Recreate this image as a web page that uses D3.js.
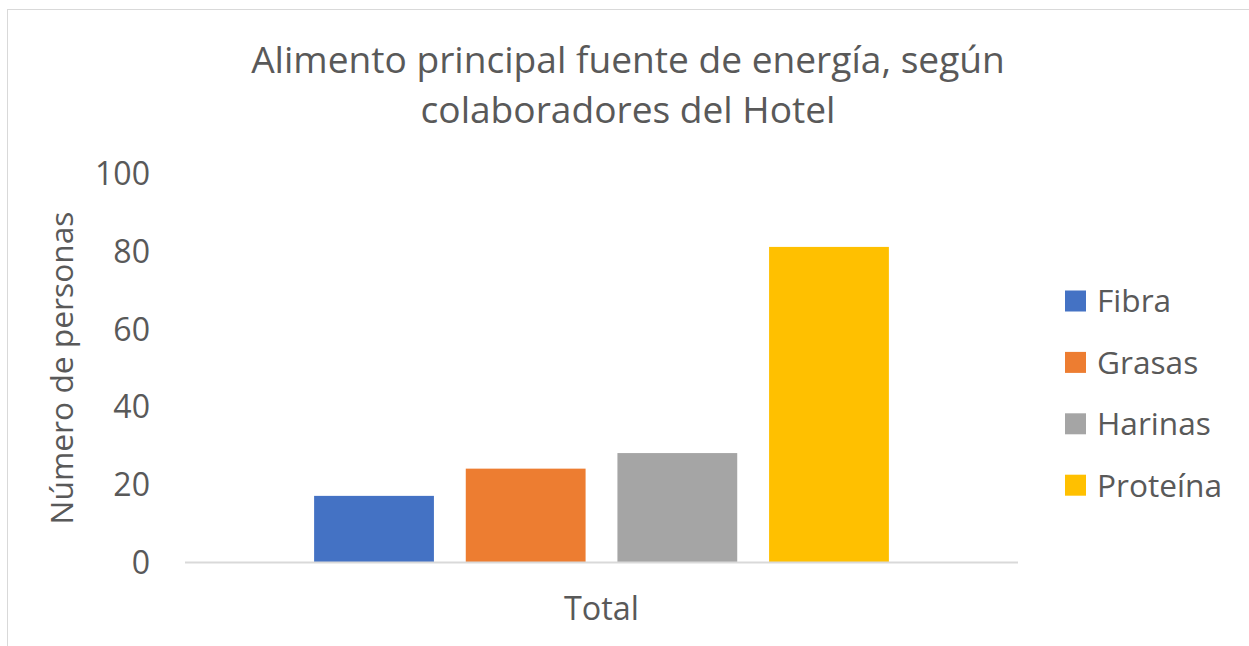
<html lang="es">
<head>
<meta charset="UTF-8" />
<title>Alimento principal</title>
<script src="https://cdn.jsdelivr.net/npm/d3@7"></script>
<style>
  body { margin: 0; background: #fff; }
  text { font-family: "Open Sans", "Noto Sans", sans-serif; fill: #595959; }
</style>
</head>
<body>
<script>
// datos
const categories = ["Total"];
const series = ["Fibra", "Grasas", "Harinas", "Proteína"];
const values = [17, 24, 28, 81];
const colors = ["#4472C4", "#ED7D31", "#A5A5A5", "#FFC000"];
const yTicks = [0, 20, 40, 60, 80, 100];
const titleLines = ["Alimento principal fuente de energía, según", "colaboradores del Hotel"];

const width = 1249, height = 646;
const svg = d3.select("body").append("svg")
    .attr("width", width)
    .attr("height", height);

// borde del gráfico
svg.append("rect")
    .attr("x", 7.5).attr("y", 9.5)
    .attr("width", 1300).attr("height", 700)
    .attr("fill", "#fff")
    .attr("stroke", "#d9d9d9")
    .attr("stroke-width", 1);

// ajusta el tamaño de letra para que el texto ocupe el ancho dado
function fit(sel, target) {
  let size = 30;
  sel.style("font-size", size + "px");
  let len = sel.node().getComputedTextLength();
  size = size * target / len;
  sel.style("font-size", size + "px");
  return size;
}

const plot = { left: 185, right: 1018, top: 173, bottom: 562 };

const y = d3.scaleLinear().domain([0, 100]).range([plot.bottom, plot.top]);
const x0 = d3.scaleBand().domain(categories).range([plot.left, plot.right])
    .paddingInner(0.31).paddingOuter(0.155);
const x1 = d3.scaleBand().domain(series).range([0, x0.bandwidth()])
    .paddingInner(0.21);
const color = d3.scaleOrdinal().domain(series).range(colors);

// título
const t1 = svg.append("text").attr("x", 628).attr("y", 73)
    .attr("text-anchor", "middle").text(titleLines[0]);
const titleSize = fit(t1, 754);
svg.append("text").attr("x", 628).attr("y", 123)
    .attr("text-anchor", "middle")
    .style("font-size", titleSize + "px")
    .text(titleLines[1]);

// eje y (solo etiquetas)
const probe = svg.append("text").text("100");
const tickSize = fit(probe, 55);
probe.remove();
const yAxis = svg.append("g")
    .attr("transform", `translate(150,0)`)
    .call(d3.axisLeft(y).tickValues(yTicks).tickSize(0).tickPadding(0));
yAxis.select(".domain").remove();
yAxis.selectAll("text")
    .attr("dy", "0.36em")
    .style("font-size", tickSize + "px")
    .style("font-family", null)
    .attr("fill", null);

// título del eje y
const yt = svg.append("text")
    .attr("transform", `translate(73,368) rotate(-90)`)
    .attr("text-anchor", "middle")
    .text("Número de personas");
fit(yt, 313);

// barras
const group = svg.append("g").selectAll("g")
    .data(categories)
    .join("g")
    .attr("transform", d => `translate(${x0(d)},0)`);

group.selectAll("rect")
    .data(() => series.map((s, i) => ({ key: s, value: values[i] })))
    .join("rect")
    .attr("x", d => x1(d.key))
    .attr("width", x1.bandwidth())
    .attr("y", d => y(d.value))
    .attr("height", d => y(0) - y(d.value))
    .attr("fill", d => color(d.key));

// eje x
const xAxis = svg.append("g")
    .attr("transform", `translate(0,${plot.bottom})`)
    .call(d3.axisBottom(x0).tickSize(0).tickPadding(0));
xAxis.select(".domain").remove();
svg.append("line")
    .attr("x1", plot.left).attr("x2", plot.right)
    .attr("y1", plot.bottom + 0.5).attr("y2", plot.bottom + 0.5)
    .attr("stroke", "#d9d9d9").attr("stroke-width", 2);
const xt = xAxis.selectAll("text")
    .attr("y", 58)
    .attr("dy", null)
    .style("font-family", null)
    .attr("fill", null);
fit(xt, 75);

// leyenda
const legend = svg.append("g").selectAll("g")
    .data(series)
    .join("g")
    .attr("transform", (d, i) => `translate(1065,${301 + i * 61.4})`);
legend.append("rect")
    .attr("x", 0).attr("y", -10.5)
    .attr("width", 21).attr("height", 21)
    .attr("fill", d => color(d));
const lt = legend.append("text")
    .attr("x", 32).attr("dy", "0.36em")
    .text(d => d);
const legendSize = fit(lt.filter(d => d === "Proteína"), 125);
lt.style("font-size", legendSize + "px");
</script>
</body>
</html>
